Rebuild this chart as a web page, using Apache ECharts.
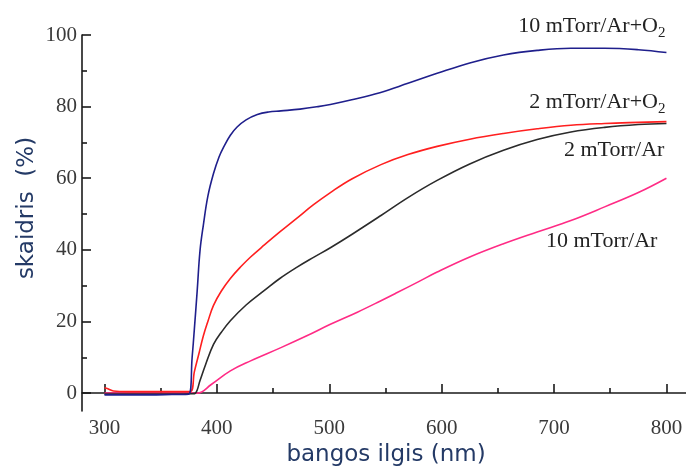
<!DOCTYPE html>
<html>
<head>
<meta charset="utf-8">
<script src="https://cdn.jsdelivr.net/npm/echarts@6/dist/echarts.min.js"></script>
<style>
  html, body { margin: 0; padding: 0; background: #fff; }
  #chart { width: 686px; height: 470px; }
</style>
</head>
<body>
<div id="chart"></div>
<script>
// Transmittance spectra of films sputtered at different pressures / gas mixtures
const seriesNames = ['10 mTorr/Ar+O2', '2 mTorr/Ar+O2', '2 mTorr/Ar', '10 mTorr/Ar'];

const wlA = [300, 320, 340, 360, 375, 378, 380, 382.5, 385, 388, 392, 397, 402, 406, 412, 418, 426, 436, 446, 457, 474, 490, 501, 520, 545, 570, 596, 625, 655, 685, 715, 745, 775, 800];
const tA  = [-0.5, -0.5, -0.5, -0.4, -0.3, 10, 18, 28.6, 39.8, 47, 55, 61.3, 66, 68.7, 72, 74.3, 76.3, 77.8, 78.5, 78.8, 79.3, 80.0, 80.6, 81.9, 83.9, 86.5, 89.3, 92.2, 94.4, 95.7, 96.3, 96.3, 95.9, 95.1];

const wlB = [300, 303, 308, 320, 340, 360, 376, 380, 384, 388, 392, 397, 404, 412, 421, 430, 442, 456, 471, 486, 501, 520, 546, 570, 596, 625, 655, 685, 715, 745, 775, 800];
const tB  = [1.5, 1.2, 0.6, 0.4, 0.4, 0.4, 0.4, 6, 11, 16, 20, 24.5, 28.5, 32, 35.2, 38.0, 41.3, 45.0, 48.8, 52.6, 56.0, 59.8, 63.8, 66.6, 68.9, 70.9, 72.5, 73.8, 74.8, 75.3, 75.6, 75.8];

const wlC = [300, 340, 378, 381, 385, 390, 397, 404, 412, 426, 442, 456, 471, 486, 501, 520, 546, 570, 596, 625, 655, 685, 715, 745, 775, 800];
const tC  = [-0.3, -0.3, -0.2, 0, 3.5, 8, 13.6, 17, 20.2, 24.6, 28.6, 32, 35.1, 37.9, 40.6, 44.3, 49.6, 54.6, 59.4, 64, 67.8, 70.8, 72.9, 74.2, 75, 75.3];

const wlD = [300, 340, 382.5, 395, 412, 430, 457, 480, 501, 525, 546, 560, 580, 596, 625, 655, 685, 715, 745, 775, 800];
const tD  = [0, 0, 0, 2.4, 6.2, 9, 12.7, 16, 19.2, 22.6, 25.8, 28, 31.2, 33.8, 38, 41.7, 45, 48.2, 52, 56, 60];

const xMajorTicks = [300, 400, 500, 600, 700, 800];
const xMinorTicks = [350, 450, 550, 650, 750];
const yMajorTicks = [0, 20, 40, 60, 80, 100];
const yMinorTicks = [10, 30, 50, 70, 90];

const lineColors = ['#1f1f8c', '#ff1f1f', '#2b2b2b', '#ff2b85'];
const labelOffsets = [[-1, -26], [-1, -19], [-2, 27], [-9, 63]];

function zip(xs, ys) { return xs.map((x, i) => [x, ys[i]]); }

const chart = echarts.init(document.getElementById('chart'), null, { renderer: 'canvas' });

const serif = 'Liberation Serif';
const axisLineStyle = { color: '#1a1a1a', width: 1.6 };

const xBase = { type: 'value', min: 280, max: 817.4, splitLine: { show: false } };
const yBase = { type: 'value', min: -5, max: 100, splitLine: { show: false } };

const option = {
  animation: false,
  grid: { left: 82, right: 0, top: 35, bottom: 59, containLabel: false },
  xAxis: [
    Object.assign({}, xBase, {
      axisLine: { show: true, lineStyle: axisLineStyle },
      axisTick: { show: true, inside: true, length: 9, customValues: xMajorTicks, lineStyle: axisLineStyle },
      axisLabel: { customValues: xMajorTicks, fontFamily: serif, fontSize: 21, color: '#3a3a3a', margin: 7 }
    }),
    Object.assign({}, xBase, {
      position: 'bottom',
      axisLine: { show: false },
      axisTick: { show: true, inside: true, length: 5, customValues: xMinorTicks, lineStyle: axisLineStyle },
      axisLabel: { show: false }
    })
  ],
  yAxis: [
    Object.assign({}, yBase, {
      axisLine: { show: true, lineStyle: axisLineStyle },
      axisTick: { show: true, inside: true, length: 9, customValues: yMajorTicks, lineStyle: axisLineStyle },
      axisLabel: { customValues: yMajorTicks, fontFamily: serif, fontSize: 21, color: '#3a3a3a', margin: 5 }
    }),
    Object.assign({}, yBase, {
      position: 'left',
      axisLine: { show: false },
      axisTick: { show: true, inside: true, length: 5, customValues: yMinorTicks, lineStyle: axisLineStyle },
      axisLabel: { show: false }
    })
  ],
  series: [[wlA, tA], [wlB, tB], [wlC, tC], [wlD, tD]].map((pair, i) => ({
    name: seriesNames[i],
    type: 'line',
    xAxisIndex: 0,
    yAxisIndex: 0,
    data: zip(pair[0], pair[1]),
    showSymbol: false,
    smooth: 0.4,
    lineStyle: { color: lineColors[i], width: 1.6 },
    z: 4 - i
  }))
};

chart.setOption(option);

// curve names, placed relative to each curve's last point
const ends = [[wlA, tA], [wlB, tB], [wlC, tC], [wlD, tD]].map(p => [p[0][p[0].length - 1], p[1][p[1].length - 1]]);
const graphics = ends.map((pt, i) => {
  const px = chart.convertToPixel({ xAxisIndex: 0, yAxisIndex: 0 }, pt);
  const name = seriesNames[i];
  const hasSub = name.endsWith('O2');
  const text = hasSub ? '{n|' + name.slice(0, -1) + '}{s|2}' : '{n|' + name + '}';
  return {
    type: 'text',
    x: px[0] + labelOffsets[i][0],
    y: px[1] + labelOffsets[i][1],
    style: {
      text: text,
      align: 'right',
      verticalAlign: 'middle',
      fill: '#222',
      rich: {
        n: { fontFamily: serif, fontSize: 22, lineHeight: 28, verticalAlign: 'middle', fill: '#222' },
        s: { fontFamily: serif, fontSize: 15, lineHeight: 28, verticalAlign: 'bottom', fill: '#222' }
      }
    }
  };
});

// axis titles
const titleColor = '#243a66';
graphics.push({
  type: 'text',
  x: 386, y: 455,
  style: { text: 'bangos ilgis (nm)', fontFamily: 'DejaVu Sans', fontSize: 23, fill: titleColor, align: 'center', verticalAlign: 'middle' }
});
graphics.push({
  type: 'text',
  x: 27, y: 208,
  rotation: Math.PI / 2,
  style: { text: 'skaidris  (%)', fontFamily: 'DejaVu Sans', fontSize: 23, fill: titleColor, align: 'center', verticalAlign: 'middle' }
});

chart.setOption({ graphic: graphics });
</script>
</body>
</html>
